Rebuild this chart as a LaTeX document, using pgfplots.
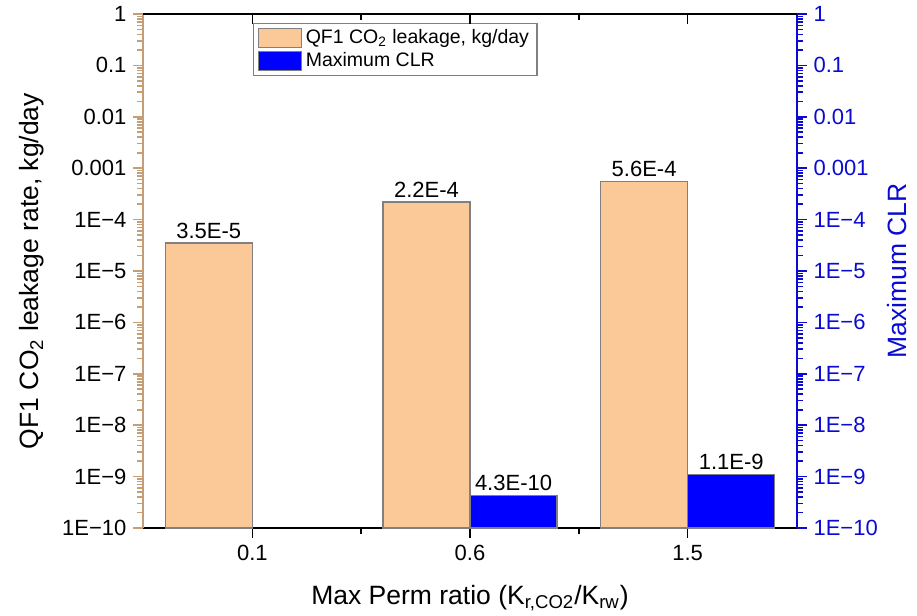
\documentclass[border=0pt]{standalone}
\usepackage{fontspec}
\setmainfont{Liberation Sans}
\usepackage{pgfplots}
\pgfplotsset{compat=1.18}
\definecolor{tanc}{RGB}{198,158,118}
\definecolor{peach}{RGB}{251,201,152}
\definecolor{barblue}{RGB}{0,0,255}
\definecolor{axblue}{RGB}{10,10,210}
\definecolor{edgegray}{RGB}{128,128,128}
\newcommand\tfont{\fontsize{11pt}{13pt}\selectfont}
\newcommand\lfont{\fontsize{13.25pt}{15pt}\selectfont}
\pgfplotsset{barlegend/.style={legend image code/.code={\draw[##1] (0pt,-4.75pt) rectangle (21.5pt,4.75pt);}}}
\begin{document}
\begin{tikzpicture}
\useasboundingbox (-71.75pt,-44pt) rectangle (386.75pt,264pt);
% left axis, orange bars
\begin{axis}[
  scale only axis, width=326.5pt, height=257pt,
  at={(0pt,0pt)}, anchor=south west,
  ymode=log, ymin=1e-10, ymax=1, log origin=infty,
  xmin=-0.5, xmax=2.5,
  ytick={1e-10,1e-9,1e-8,1e-7,1e-6,1e-5,1e-4,1e-3,1e-2,1e-1,1},
  yticklabels={1E−10,1E−9,1E−8,1E−7,1E−6,1E−5,1E−4,0.001,0.01,0.1,1},
  minor ytick={2e-10,3e-10,4e-10,5e-10,6e-10,7e-10,8e-10,9e-10,
    2e-9,3e-9,4e-9,5e-9,6e-9,7e-9,8e-9,9e-9,
    2e-8,3e-8,4e-8,5e-8,6e-8,7e-8,8e-8,9e-8,
    2e-7,3e-7,4e-7,5e-7,6e-7,7e-7,8e-7,9e-7,
    2e-6,3e-6,4e-6,5e-6,6e-6,7e-6,8e-6,9e-6,
    2e-5,3e-5,4e-5,5e-5,6e-5,7e-5,8e-5,9e-5,
    2e-4,3e-4,4e-4,5e-4,6e-4,7e-4,8e-4,9e-4,
    2e-3,3e-3,4e-3,5e-3,6e-3,7e-3,8e-3,9e-3,
    2e-2,3e-2,4e-2,5e-2,6e-2,7e-2,8e-2,9e-2,
    2e-1,3e-1,4e-1,5e-1,6e-1,7e-1,8e-1,9e-1},
  major tick length=5pt, minor tick length=3pt,
  axis x line*=bottom, axis y line*=left,
  tick align=outside,
  xtick={0,1,2}, xticklabels={0.1,0.6,1.5},
  minor xtick={0.5,1.5},
  x axis line style={black, line width=1pt},
  y axis line style={tanc, line width=1pt},
  ytick style={tanc, line width=0.8pt},
  minor tick style={line width=0.8pt},
  xtick style={black, line width=0.8pt},
  yticklabel style={black, font=\tfont},
  xticklabel style={black, font=\tfont},
  ylabel={QF1 CO\textsubscript{2} leakage rate, kg/day},
  ylabel style={at={(axis description cs:-0.1707,0.5)}, anchor=center, font=\lfont},
  xlabel={Max Perm ratio (K\textsubscript{r,CO2}/K\textsubscript{rw})},
  xlabel style={at={(axis description cs:0.5,-0.1362)}, anchor=center, font=\lfont},
  ybar, bar width=0.4, bar shift=0pt,
  nodes near coords, point meta=explicit symbolic,
  every node near coord/.append style={font=\tfont, black, anchor=south, inner sep=0pt, yshift=2pt},
]
\addplot[fill=peach, draw=edgegray, line width=0.6pt] coordinates {(-0.2,3.5e-5) [3.5E-5] (0.8,2.2e-4) [2.2E-4] (1.8,5.6e-4) [5.6E-4]};
\end{axis}
% right axis, blue bars
\begin{axis}[
  scale only axis, width=326.5pt, height=257pt,
  at={(0pt,0pt)}, anchor=south west,
  ymode=log, ymin=1e-10, ymax=1, log origin=infty,
  xmin=-0.5, xmax=2.5,
  ytick={1e-10,1e-9,1e-8,1e-7,1e-6,1e-5,1e-4,1e-3,1e-2,1e-1,1},
  yticklabels={1E−10,1E−9,1E−8,1E−7,1E−6,1E−5,1E−4,0.001,0.01,0.1,1},
  minor ytick={2e-10,3e-10,4e-10,5e-10,6e-10,7e-10,8e-10,9e-10,
    2e-9,3e-9,4e-9,5e-9,6e-9,7e-9,8e-9,9e-9,
    2e-8,3e-8,4e-8,5e-8,6e-8,7e-8,8e-8,9e-8,
    2e-7,3e-7,4e-7,5e-7,6e-7,7e-7,8e-7,9e-7,
    2e-6,3e-6,4e-6,5e-6,6e-6,7e-6,8e-6,9e-6,
    2e-5,3e-5,4e-5,5e-5,6e-5,7e-5,8e-5,9e-5,
    2e-4,3e-4,4e-4,5e-4,6e-4,7e-4,8e-4,9e-4,
    2e-3,3e-3,4e-3,5e-3,6e-3,7e-3,8e-3,9e-3,
    2e-2,3e-2,4e-2,5e-2,6e-2,7e-2,8e-2,9e-2,
    2e-1,3e-1,4e-1,5e-1,6e-1,7e-1,8e-1,9e-1},
  major tick length=5pt, minor tick length=3pt,
  axis x line=none, axis y line*=right,
  tick align=outside,
  y axis line style={axblue, line width=1pt},
  ytick style={axblue, line width=0.8pt},
  minor tick style={line width=0.8pt},
  yticklabel style={axblue, font=\tfont},
  ylabel={Maximum CLR},
  ylabel style={at={(axis description cs:1.1539,0.5)}, anchor=center, font=\lfont, text=axblue},
  ybar, bar width=0.4, bar shift=0pt,
  nodes near coords, point meta=explicit symbolic,
  every node near coord/.append style={font=\tfont, black, anchor=south, inner sep=0pt, yshift=2pt},
  legend cell align=left,
  legend style={at={(0.1677,0.9825)}, anchor=north west, draw=edgegray, line width=0.6pt,
    font=\fontsize{9.75pt}{11pt}\selectfont, inner xsep=2pt, inner ysep=1pt, row sep=-1pt,
    /tikz/every even column/.append style={column sep=2pt}},
]
\addlegendimage{fill=peach, draw=edgegray, line width=0.6pt, barlegend}
\addlegendentry{QF1 CO\textsubscript{2} leakage, kg/day}
\addplot[fill=barblue, draw=edgegray, line width=0.6pt, barlegend] coordinates {(1.2,4.3e-10) [4.3E-10] (2.2,1.1e-9) [1.1E-9]};
\addlegendentry{Maximum CLR}
\end{axis}
% top axis ticks (inward)
\begin{axis}[
  scale only axis, width=326.5pt, height=257pt,
  at={(0pt,0pt)}, anchor=south west,
  ymode=log, ymin=1e-10, ymax=1,
  xmin=-0.5, xmax=2.5,
  major tick length=5pt, minor tick length=3pt,
  axis y line=none, axis x line*=top,
  tick align=inside,
  xtick={0,1,2}, xticklabels=\empty, minor xtick={0.5,1.5},
  xtick style={black, line width=0.8pt},
  x axis line style={black, line width=1pt},
]
\end{axis}
\end{tikzpicture}
\end{document}
